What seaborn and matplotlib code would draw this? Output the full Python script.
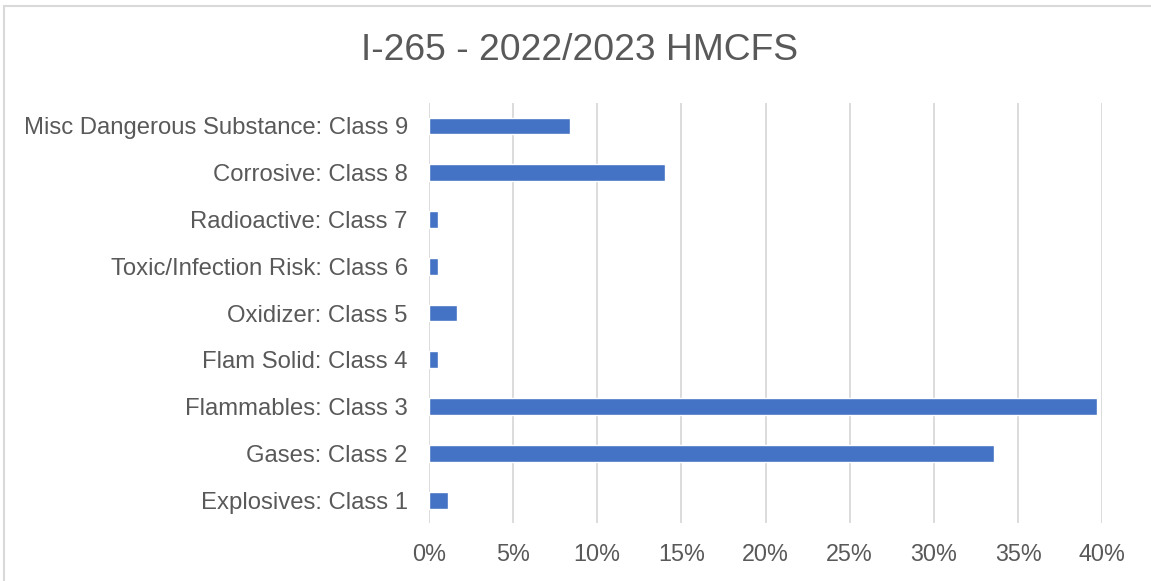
import matplotlib
matplotlib.use("Agg")
import matplotlib.pyplot as plt
import matplotlib.ticker as mtick
from matplotlib.patches import Rectangle
import pandas as pd
import seaborn as sns

categorii = [
    "Explosives: Class 1",
    "Gases: Class 2",
    "Flammables: Class 3",
    "Flam Solid: Class 4",
    "Oxidizer: Class 5",
    "Toxic/Infection Risk: Class 6",
    "Radioactive: Class 7",
    "Corrosive: Class 8",
    "Misc Dangerous Substance: Class 9",
]
ponderi = [0.0113, 0.3355, 0.3970, 0.0057, 0.0168, 0.0057, 0.0057, 0.1402, 0.0841]
titlu = "I-265 - 2022/2023 HMCFS"

df = pd.DataFrame({"Clasa": categorii, "Pondere": ponderi})

sns.set_style("white")
plt.rcParams["font.family"] = ["Liberation Sans", "DejaVu Sans"]

text_col = "#595959"
fig = plt.figure(figsize=(11.51, 5.81), dpi=100)
ax = fig.add_axes([0.3725, 0.099, 0.5852, 0.7245])

sns.barplot(data=df, x="Pondere", y="Clasa", order=categorii[::-1], orient="h",
            color="#4472C4", saturation=1, width=0.36, ax=ax, zorder=3)

ax.set_xlim(0, 0.40)
ax.set_xticks([i * 0.05 for i in range(9)])
ax.xaxis.set_major_formatter(mtick.PercentFormatter(xmax=1, decimals=0))
ax.grid(axis="x", color="#D9D9D9", linewidth=1.3, zorder=0)
ax.grid(axis="y", visible=False)
for s in ax.spines.values():
    s.set_visible(False)
ax.set_xlabel("")
ax.set_ylabel("")
ax.tick_params(axis="x", length=0, labelsize=16.8, labelcolor=text_col, pad=14)
ax.tick_params(axis="y", length=0, labelsize=17.2, labelcolor=text_col, pad=15)

fig.text(0.5035, 0.913, titlu, ha="center", va="center", fontsize=26.8, color=text_col)

fig.add_artist(Rectangle((3.7 / 1151, -0.01), 1.0, 1 - 6.5 / 581 + 0.01,
                         transform=fig.transFigure, fill=False,
                         edgecolor="#D9D9D9", linewidth=1.5))

fig.savefig("out.png", dpi=100)
